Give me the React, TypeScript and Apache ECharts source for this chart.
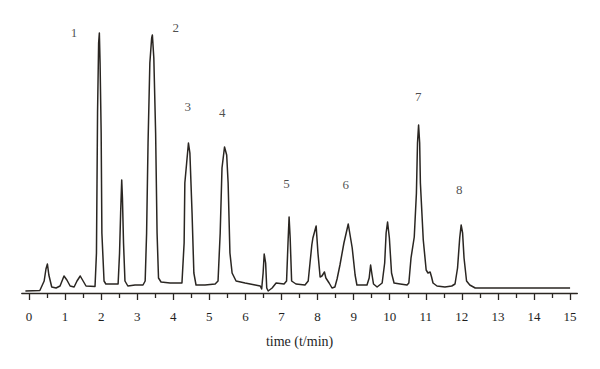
import React, { useEffect, useRef } from "react";
import * as echarts from "echarts";

// Retention time (min) and detector signal (arbitrary units)
const times: number[] = [
  -0.1, 0.3, 0.42, 0.47, 0.51, 0.55, 0.63, 0.75, 0.86, 0.97, 1.05, 1.14, 1.25, 1.33, 1.42, 1.5, 1.58,
  1.83, 1.87, 1.9, 1.93, 1.95, 1.97, 2.0, 2.02, 2.08, 2.13, 2.47, 2.51, 2.54, 2.57, 2.59, 2.62, 2.66,
  2.74, 2.94, 3.16, 3.22, 3.26, 3.3, 3.35, 3.4, 3.42, 3.46, 3.51, 3.55, 3.59, 3.66, 3.91, 4.24, 4.3,
  4.32, 4.37, 4.42, 4.46, 4.52, 4.57, 4.63, 4.88, 5.16, 5.24, 5.3, 5.35, 5.42, 5.48, 5.52, 5.57, 5.63,
  5.74, 5.99, 6.27, 6.41, 6.45, 6.49, 6.52, 6.56, 6.59, 6.63, 6.74, 6.85, 7.07, 7.14, 7.18, 7.21, 7.24,
  7.28, 7.4, 7.65, 7.74, 7.79, 7.84, 7.87, 7.96, 8.01, 8.07, 8.12, 8.19, 8.23, 8.32, 8.4, 8.48, 8.54,
  8.62, 8.73, 8.85, 8.96, 9.04, 9.09, 9.37, 9.43, 9.47, 9.51, 9.55, 9.65, 9.79, 9.86, 9.9, 9.94, 9.99,
  10.05, 10.12, 10.29, 10.48, 10.53, 10.59, 10.68, 10.74, 10.77, 10.8, 10.83, 10.85, 10.93, 11.01,
  11.06, 11.12, 11.16, 11.2, 11.31, 11.53, 11.72, 11.81, 11.88, 11.94, 11.98, 12.02, 12.06, 12.13,
  12.22, 12.37, 15.0,
];
const signal: number[] = [
  2, 2.5, 12, 24, 29, 18, 6, 5, 7, 17, 13, 7, 6, 12, 17, 12, 7,
  6.5, 40, 180, 250, 260, 230, 160, 60, 12, 9, 9, 40, 80, 113, 95, 50, 12,
  7, 8, 8, 12, 60, 150, 230, 255, 258, 235, 160, 60, 15, 11, 10, 10, 50,
  110, 130, 150, 140, 80, 20, 8, 8, 9, 12, 60, 125, 146, 138, 110, 40, 20,
  12, 10, 8, 7, 4, 20, 39, 30, 5, 2, 5, 10, 9, 12, 50, 76, 55,
  12, 9, 8, 12, 30, 48, 55, 67, 40, 16, 17, 21, 15, 10, 5, 6, 14,
  28, 50, 69, 45, 18, 8, 8, 15, 28, 18, 9, 6, 10, 30, 60, 71, 55,
  20, 10, 9, 8, 10, 35, 56, 100, 150, 168, 150, 110, 53, 23,
  20, 21, 16, 10, 7, 6, 7, 9, 25, 55, 68, 60, 35, 12,
  8, 5, 5,
];

// Peak numbers and where they are written
const peakNames: string[] = ["1", "2", "3", "4", "5", "6", "7", "8"];
const peakLabelTimes: number[] = [1.25, 4.07, 4.4, 5.36, 7.14, 8.78, 10.79, 11.93];
const peakLabelHeights: number[] = [261, 266, 187, 181, 110, 109, 197, 104];

const majorTicks: number[] = [0, 1, 2, 3, 4, 5, 6, 7, 8, 9, 10, 11, 12, 13, 14, 15];
const minorTicks: number[] = [0.5, 1.5, 2.5, 3.5, 4.5, 5.5, 6.5, 7.5, 8.5, 9.5, 10.5, 11.5, 12.5, 13.5, 14.5];

const axisTitle = "time (t/min)";

export default function App() {
  const ref = useRef<HTMLDivElement>(null);

  useEffect(() => {
    if (!ref.current) return;
    const chart = echarts.init(ref.current, undefined, { renderer: "svg" });
    const font = "'Liberation Serif', 'DejaVu Serif', serif";
    const ink = "#2a2622";
    const textInk = "#1e1e1e";

    const baseAxis = {
      type: "value" as const,
      min: -0.2,
      max: 15.2,
      splitLine: { show: false },
    };

    chart.setOption({
      animation: false,
      backgroundColor: "#ffffff",
      grid: { left: 21.8, right: 22.7, top: 18, bottom: 76 },
      xAxis: [
        {
          ...baseAxis,
          position: "bottom",
          axisLine: { show: true, onZero: false, lineStyle: { color: ink, width: 1.4 } },
          axisTick: {
            show: true,
            inside: false,
            length: 7,
            customValues: majorTicks,
            lineStyle: { color: ink, width: 1.3 },
          },
          axisLabel: {
            show: true,
            customValues: majorTicks,
            margin: 17,
            color: textInk,
            fontFamily: font,
            fontSize: 13,
          },
          name: axisTitle,
          nameLocation: "middle",
          nameGap: 41,
          nameTextStyle: { color: textInk, fontFamily: font, fontSize: 14 },
        },
        {
          ...baseAxis,
          position: "bottom",
          axisLine: { show: false },
          axisTick: {
            show: true,
            inside: false,
            length: 5,
            customValues: minorTicks,
            lineStyle: { color: ink, width: 1.3 },
          },
          axisLabel: { show: false },
        },
      ],
      yAxis: {
        type: "value",
        min: 0,
        max: 275,
        show: false,
        splitLine: { show: false },
      },
      series: [
        {
          type: "line",
          xAxisIndex: 0,
          data: times.map((t, i) => [t, signal[i]]),
          showSymbol: false,
          symbol: "none",
          clip: false,
          lineStyle: { color: ink, width: 1.5, join: "round" },
          silent: true,
        },
        {
          type: "scatter",
          xAxisIndex: 0,
          symbolSize: 0,
          itemStyle: { color: textInk },
          data: peakNames.map((n, i) => ({ name: n, value: [peakLabelTimes[i], peakLabelHeights[i]] })),
          label: {
            show: true,
            position: "inside",
            formatter: (p: any) => p.name,
            color: textInk,
            textBorderWidth: 0,
            textBorderColor: "transparent",
            fontFamily: font,
            fontSize: 13,
          },
          silent: true,
        },
      ],
    });

    return () => chart.dispose();
  }, []);

  return <div ref={ref} style={{ width: 600, height: 369, position: "absolute", left: 0, top: 0 }} />;
}
